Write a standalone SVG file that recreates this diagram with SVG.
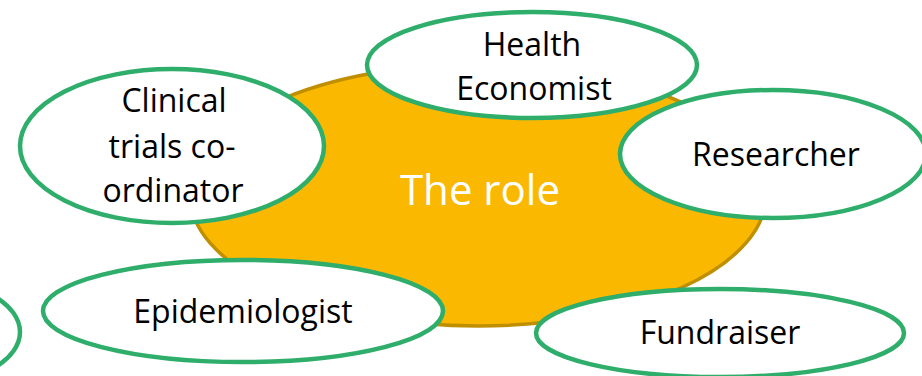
<svg xmlns="http://www.w3.org/2000/svg" width="922" height="376" viewBox="0 0 922 376">
<style>
.role{fill:#FAB900;stroke:#BF8F00;stroke-width:3.5}
.node{fill:#FFFFFF;stroke:#2EAD6B;stroke-width:4.5}
text{font-family:"Open Sans","Liberation Sans",sans-serif;text-anchor:middle}
.lbl{font-size:32px;fill:#000000}
.main{font-size:42px;fill:#FFFFFF}
</style>
<rect width="922" height="376" fill="#FFFFFF"/>
<g id="connectors"></g>
<g id="the-role">
<ellipse class="role" cx="478" cy="195" rx="288" ry="131"/>
<text class="main" x="480" y="205">The role</text>
</g>
<g id="partial-node">
<ellipse class="node" cx="-78" cy="332" rx="98" ry="53"/>
</g>
<g id="health-economist">
<ellipse class="node" cx="532" cy="65" rx="165" ry="53"/>
<text class="lbl" x="532" y="56">Health</text>
<text class="lbl" x="534" y="100">Economist</text>
</g>
<g id="clinical-trials">
<ellipse class="node" cx="172" cy="146" rx="152" ry="77"/>
<text class="lbl" x="174" y="112">Clinical</text>
<text class="lbl" x="172" y="158">trials co-</text>
<text class="lbl" x="173" y="202">ordinator</text>
</g>
<g id="researcher">
<ellipse class="node" cx="773" cy="154" rx="153" ry="64"/>
<text class="lbl" x="776" y="166">Researcher</text>
</g>
<g id="epidemiologist">
<ellipse class="node" cx="243" cy="311" rx="200" ry="51"/>
<text class="lbl" x="243" y="323">Epidemiologist</text>
</g>
<g id="fundraiser">
<ellipse class="node" cx="720" cy="333" rx="184" ry="44"/>
<text class="lbl" x="720" y="344">Fundraiser</text>
</g>
</svg>
